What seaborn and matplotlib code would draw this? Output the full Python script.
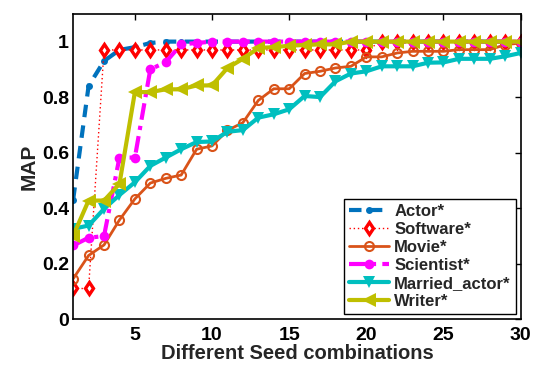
import matplotlib
matplotlib.use("Agg")
import matplotlib.pyplot as plt
import pandas as pd
import seaborn as sns

sns.set_theme(style="white")
plt.rcParams["font.family"] = ["Liberation Sans", "DejaVu Sans"]
plt.rcParams["font.weight"] = "bold"

seeds = list(range(1, 31))

actor = [0.43, 0.84, 0.93, 0.97, 0.98, 0.995, 1.0, 1.0, 1.0, 1.0,
         1.0, 1.0, 1.0, 1.0, 1.0, 1.0, 1.0, 1.0, 1.0, 1.0,
         1.0, 1.0, 1.0, 1.0, 1.0, 1.0, 1.0, 1.0, 1.0, 1.0]
software = [0.11, 0.11, 0.97, 0.97, 0.97, 0.97, 0.97, 0.97, 0.97, 0.97,
            0.97, 0.97, 0.97, 0.97, 0.97, 0.97, 0.97, 0.97, 0.97, 0.97,
            1.0, 1.0, 1.0, 1.0, 1.0, 1.0, 1.0, 1.0, 1.0, 1.0]
movie = [0.145, 0.229, 0.267, 0.357, 0.433, 0.49, 0.507, 0.519, 0.612, 0.624,
         0.68, 0.708, 0.788, 0.83, 0.83, 0.885, 0.893, 0.905, 0.911, 0.945,
         0.945, 0.959, 0.965, 0.965, 0.965, 0.971, 0.971, 0.971, 0.989, 0.995]
scientist = [0.265, 0.293, 0.299, 0.582, 0.582, 0.90, 0.926, 0.99, 0.995, 1.0,
             1.0, 1.0, 1.0, 1.0, 1.0, 1.0, 1.0, 1.0, 1.0, 1.0,
             1.0, 1.0, 1.0, 1.0, 1.0, 1.0, 1.0, 1.0, 1.0, 1.0]
married_actor = [0.325, 0.337, 0.397, 0.447, 0.493, 0.552, 0.582, 0.612, 0.638, 0.64,
                 0.675, 0.681, 0.726, 0.738, 0.756, 0.804, 0.80, 0.857, 0.885, 0.893,
                 0.911, 0.911, 0.911, 0.924, 0.925, 0.938, 0.938, 0.938, 0.947, 0.959]
writer = [0.30, 0.427, 0.427, 0.487, 0.818, 0.818, 0.828, 0.828, 0.842, 0.842,
          0.905, 0.938, 0.977, 0.98, 0.985, 0.988, 0.99, 0.99, 1.0, 1.0,
          1.0, 1.0, 1.0, 1.0, 1.0, 1.0, 1.0, 1.0, 1.0, 1.0]

series = [
    ("Actor*", actor, dict(color="#0072BD", linestyle=(0, (3, 2)), linewidth=3,
                           marker=".", markersize=10, markeredgewidth=0)),
    ("Software*", software, dict(color="#FF0000", linestyle=(0, (1, 2)), linewidth=1,
                                 marker="d", markersize=6.5, markerfacecolor="white",
                                 markeredgecolor="#FF0000", markeredgewidth=2.4)),
    ("Movie*", movie, dict(color="#D95319", linestyle="-", linewidth=2,
                           marker="o", markersize=6.5, markerfacecolor="none",
                           markeredgecolor="#D95319", markeredgewidth=1.5)),
    ("Scientist*", scientist, dict(color="#FF00FF", linestyle=(0, (4, 1.5, 1, 1.5)),
                                   linewidth=3, marker=".", markersize=14,
                                   markeredgewidth=0)),
    ("Married_actor*", married_actor, dict(color="#00BFBF", linestyle="-", linewidth=3,
                                           marker="v", markersize=9, markeredgewidth=0)),
    ("Writer*", writer, dict(color="#BFBF00", linestyle="-", linewidth=3,
                             marker="<", markersize=10, markeredgewidth=0)),
]

fig = plt.figure(figsize=(5.34, 3.65), dpi=100)
ax = fig.add_axes([0.137, 0.126, 0.838, 0.836])

for name, vals, style in series:
    df = pd.DataFrame({"seed": seeds, "map": vals})
    sns.lineplot(data=df, x="seed", y="map", ax=ax, label=name, **style)

ax.set_xlim(1, 30)
ax.set_ylim(0, 1.1)
ax.set_xticks([5, 10, 15, 20, 25, 30])
ax.set_yticks([0, 0.2, 0.4, 0.6, 0.8, 1.0])
ax.set_yticklabels(["0", "0.2", "0.4", "0.6", "0.8", "1"])
ax.tick_params(direction="in", length=4, width=1, top=True, right=True,
               labelsize=14, colors="black")
ax.tick_params(axis="x", pad=6)
ax.tick_params(axis="y", pad=3)
for lbl in ax.get_xticklabels() + ax.get_yticklabels():
    lbl.set_fontweight("bold")
for sp in ax.spines.values():
    sp.set_color("black")
    sp.set_linewidth(1.2)

ax.set_xlabel("Different Seed combinations", fontsize=14.5, fontweight="bold", labelpad=0)
ax.set_ylabel("MAP", fontsize=15, fontweight="bold", labelpad=2)

leg = ax.legend(loc="lower right", fontsize=12, frameon=True, fancybox=False,
                edgecolor="black", framealpha=1, handlelength=2.4, borderpad=0.3,
                labelspacing=0.18, handletextpad=0.3, borderaxespad=0.3)
leg.get_frame().set_linewidth(1)
for t in leg.get_texts():
    t.set_fontweight("bold")

fig.savefig("out.png", dpi=100)
